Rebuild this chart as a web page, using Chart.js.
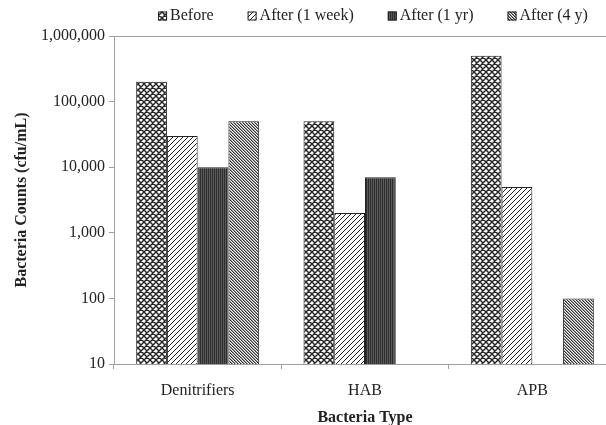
<html>
  <head>
    <style>
      body { margin: 0; background: #fff; overflow: hidden; }
    </style>
  </head>
  <body>
    <canvas id="myChart" width="616" height="425"></canvas>
    <script src="https://cdn.jsdelivr.net/npm/chart.js@4.4.0/dist/chart.umd.min.js"></script>
    <script>
      // data
      const categories = ["Denitrifiers", "HAB", "APB"];
      const seriesLabels = ["Before", "After (1 week)", "After (1 yr)", "After (4 y)"];
      const before = [200000, 50000, 500000];
      const afterWeek = [30000, 2000, 5000];
      const afterYear = [10000, 7000, null];
      const afterFourYears = [50000, null, 100];
      const yTicks = [10, 100, 1000, 10000, 100000, 1000000];

      const FONT = "'Liberation Serif', 'Times New Roman', serif";
      const ctx = document.getElementById("myChart").getContext("2d");

      function makePattern(size, draw) {
        const c = document.createElement("canvas");
        c.width = size; c.height = size;
        const g = c.getContext("2d");
        draw(g, size);
        return ctx.createPattern(c, "repeat");
      }

      // cross hatch with round holes
      const patBefore = makePattern(6, (g, s) => {
        g.fillStyle = "#fff"; g.fillRect(0, 0, s, s);
        g.strokeStyle = "#262626"; g.lineWidth = 1.45;
        g.beginPath();
        for (let k = -s; k <= s; k += s) {
          g.moveTo(k, 0); g.lineTo(k + s, s);
          g.moveTo(k, s); g.lineTo(k + s, 0);
        }
        g.stroke();
      });
      // forward diagonal
      const patWeek = makePattern(5, (g, s) => {
        g.fillStyle = "#fff"; g.fillRect(0, 0, s, s);
        g.strokeStyle = "#222"; g.lineWidth = 1;
        g.beginPath();
        for (let k = -s; k <= s; k += s) { g.moveTo(k, s); g.lineTo(k + s, 0); }
        g.stroke();
      });
      // dark fine texture
      const patYear = makePattern(2, (g, s) => {
        g.fillStyle = "#5a5a5a"; g.fillRect(0, 0, s, s);
        g.fillStyle = "#2e2e2e"; g.fillRect(0, 0, 1, s);
      });
      // dense back diagonal, drawn pixel by pixel so it stays crisp
      const patFour = makePattern(3, (g, s) => {
        g.fillStyle = "#f4f4f4"; g.fillRect(0, 0, s, s);
        for (let y = 0; y < s; y++) {
          g.fillStyle = "#333"; g.fillRect(y, y, 1, 1);
          g.fillStyle = "#9a9a9a"; g.fillRect((y + 1) % s, y, 1, 1);
        }
      });

      const patterns = [patBefore, patWeek, patYear, patFour];
      const seriesData = [before, afterWeek, afterYear, afterFourYears];

      const legendPlugin = {
        id: "patternLegend",
        afterDraw(chart) {
          const c = chart.ctx;
          const a = chart.chartArea;
          c.save();
          c.font = "16px " + FONT;
          c.textBaseline = "middle";
          const box = 9, gap = 3, space = 34;
          let total = 0;
          chart.data.datasets.forEach((ds, i) => {
            total += box + gap + c.measureText(ds.label).width + (i ? space : 0);
          });
          let x = (a.left + a.right) / 2 + 8 - total / 2;
          const cy = 16;
          chart.data.datasets.forEach(ds => {
            c.fillStyle = ds.backgroundColor;
            c.fillRect(x, cy - box / 2, box, box);
            c.strokeStyle = "#222"; c.lineWidth = 1;
            c.strokeRect(x + 0.5, cy - box / 2 + 0.5, box - 1, box - 1);
            c.fillStyle = "#222";
            c.fillText(ds.label, x + box + gap, cy);
            x += box + gap + c.measureText(ds.label).width + space;
          });
          c.restore();
        }
      };

      const myChart = new Chart(ctx, {
        type: "bar",
        data: {
          labels: categories,
          datasets: seriesLabels.map((label, i) => ({
            label: label,
            data: seriesData[i],
            backgroundColor: patterns[i],
            borderColor: "#222",
            borderWidth: 1,
            categoryPercentage: 0.735,
            barPercentage: 1.0
          }))
        },
        options: {
          responsive: false,
          animation: false,
          layout: { padding: { top: 36, right: 0, left: 0, bottom: 0 } },
          plugins: {
            legend: { display: false },
            tooltip: { enabled: false }
          },
          scales: {
            x: {
              offset: true,
              grid: {
                offset: true,
                drawOnChartArea: false,
                tickLength: 5,
                color: "#a0a0a0"
              },
              border: { color: "#a0a0a0", width: 1 },
              ticks: {
                color: "#222",
                font: { family: FONT, size: 16 },
                padding: 12
              },
              title: {
                display: true,
                text: "Bacteria Type",
                color: "#222",
                font: { family: FONT, size: 16, weight: "bold" },
                padding: { top: 0, bottom: -2 }
              },
              afterFit: scale => { scale.height = 61; }
            },
            y: {
              type: "logarithmic",
              min: 10,
              max: 1000000,
              afterBuildTicks: scale => {
                scale.ticks = yTicks.map(v => ({ value: v }));
              },
              grid: {
                tickLength: 5,
                tickColor: "#a0a0a0",
                color: c => (c.tick && c.tick.value === 1000000 ? "#a0a0a0" : "rgba(0,0,0,0)")
              },
              border: { color: "#a0a0a0", width: 1 },
              ticks: {
                color: "#222",
                font: { family: FONT, size: 16 },
                padding: 4,
                callback: v => Number(v).toLocaleString("en-US")
              },
              title: {
                display: true,
                text: "Bacteria Counts (cfu/mL)",
                color: "#222",
                font: { family: FONT, size: 16, weight: "bold" },
                padding: { top: 12, bottom: 0 }
              },
              afterFit: scale => { scale.width = 114; }
            }
          }
        },
        plugins: [legendPlugin]
      });
    </script>
  </body>
</html>
